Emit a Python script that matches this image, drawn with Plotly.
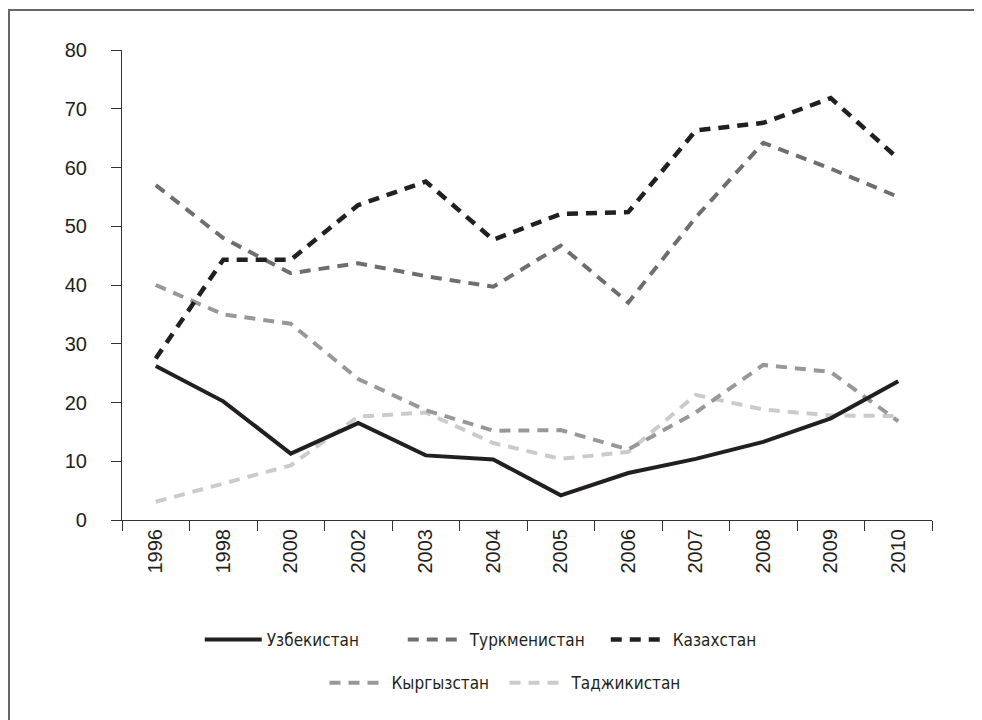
import plotly.graph_objects as go

years = ["1996", "1998", "2000", "2002", "2003", "2004",
         "2005", "2006", "2007", "2008", "2009", "2010"]

uzbekistan = [26.2, 20.2, 11.3, 16.5, 11.0, 10.3, 4.2, 8.0, 10.4, 13.3, 17.3, 23.6]
turkmenistan = [57.0, 48.0, 42.0, 43.7, 41.5, 39.7, 46.7, 37.0, 51.5, 64.2, 59.8, 55.0]
kazakhstan = [27.5, 44.3, 44.3, 53.6, 57.6, 47.7, 52.1, 52.4, 66.3, 67.6, 71.8, 61.5]
kyrgyzstan = [40.0, 35.0, 33.4, 24.0, 18.7, 15.2, 15.3, 12.0, 18.3, 26.4, 25.2, 16.8]
tajikistan = [3.1, 6.2, 9.3, 17.6, 18.3, 13.1, 10.4, 11.6, 21.3, 18.8, 17.8, 17.7]

DARK = "#231f20"
DASH = "11px,8px"
TICK_FONT = dict(family="Liberation Sans, Arial, sans-serif", size=20, color=DARK)
LEG_FONT = dict(family="DejaVu Sans Condensed, Liberation Sans Narrow, sans-serif",
                size=17, color=DARK)

# (name, values, color, dash, width, legend, rank) -- drawn in this order
series = [
    ("Таджикистан", tajikistan, "#cbcbcc", DASH, 4, "legend2", 2),
    ("Кыргызстан", kyrgyzstan, "#97989b", DASH, 4, "legend2", 1),
    ("Туркменистан", turkmenistan, "#6d6e70", DASH, 4, "legend", 2),
    ("Казахстан", kazakhstan, DARK, DASH, 4.5, "legend", 3),
    ("Узбекистан", uzbekistan, DARK, "solid", 4, "legend", 1),
]

fig = go.Figure()
for name, vals, color, dash, width, leg, rank in series:
    fig.add_trace(go.Scatter(
        x=years, y=vals, mode="lines", name=name,
        line=dict(color=color, dash=dash, width=width),
        legend=leg, legendrank=rank,
    ))

# page body has an 8px margin, so the figure is a bit smaller than the window
fig.update_layout(
    width=974, height=712,
    margin=dict(l=114, r=50, t=42, b=200),
    paper_bgcolor="white", plot_bgcolor="white",
    showlegend=True,
    legend=dict(orientation="h", x=0.096, xanchor="left", y=-0.255, yanchor="middle",
                font=LEG_FONT, itemwidth=57, entrywidth=131, traceorder="normal"),
    legend2=dict(orientation="h", x=0.25, xanchor="left", y=-0.347, yanchor="middle",
                 font=LEG_FONT, itemwidth=57, entrywidth=108, traceorder="normal"),
    # outer frame: left and top edges only
    shapes=[dict(type="path", xref="paper", yref="paper",
                 path="M -0.1395,-0.45 L -0.1395,1.085 L 1.08,1.085",
                 line=dict(color="#666666", width=2))],
)

fig.update_xaxes(
    type="category", range=[-0.5, 11.5],
    showline=True, linecolor="#333333", linewidth=1.2,
    ticks="outside", tickson="boundaries", ticklen=10, tickcolor="#333333",
    tickangle=-90, tickfont=TICK_FONT, showgrid=False, zeroline=False,
)
fig.update_yaxes(
    range=[0, 80], dtick=10,
    showline=True, linecolor="#333333", linewidth=1.2,
    ticks="outside", ticklen=10, tickcolor="#333333",
    tickfont=TICK_FONT, ticklabelstandoff=20,
    showgrid=False, zeroline=False,
)

fig.write_html("out.html")
